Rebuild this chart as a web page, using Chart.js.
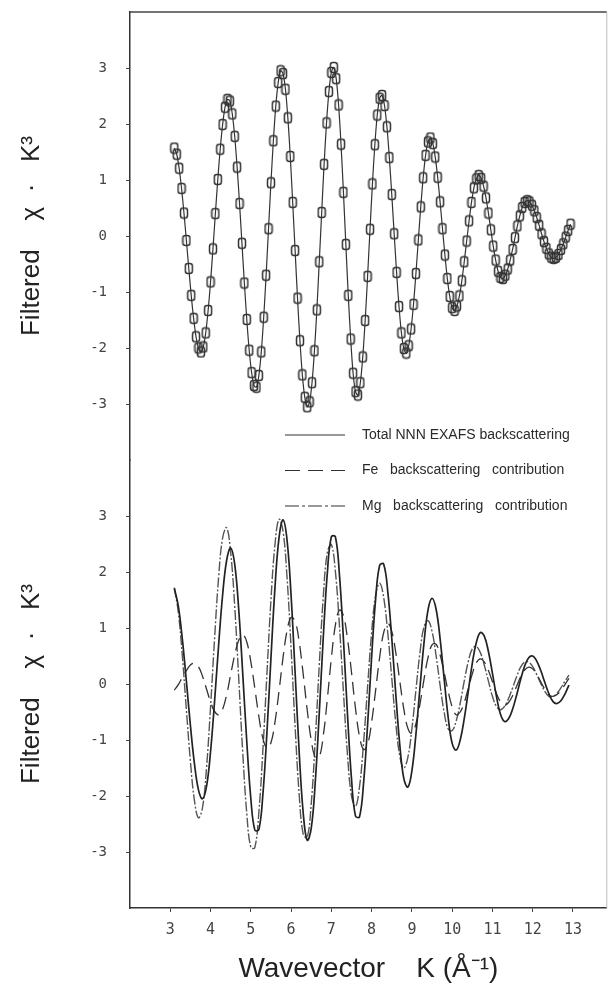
<html>

<head>
    <title>Filtered EXAFS</title>
    <script src="https://cdn.jsdelivr.net/npm/chart.js@4.4.0/dist/chart.umd.min.js"></script>
    <style>
        body { margin: 0; background: #fff; }
    </style>
</head>

<body>
    <canvas id="plotCanvas" width="613" height="991"></canvas>
    <script>
        // ========= Data ==============================

        // top panel: filtered data points, k from 3.1 in steps of 0.06
        const topStart = 3.1
        const topStep = 0.06
        const topChi = [
            1.57, 1.46, 1.21, 0.85, 0.41, -0.08, -0.58, -1.06, -1.47, -1.80, -2.00, -2.07,
            -1.98, -1.73, -1.33, -0.82, -0.23, 0.40, 1.01, 1.55, 1.99, 2.30, 2.44,
            2.41, 2.18, 1.78, 1.23, 0.58, -0.13, -0.84, -1.49, -2.04, -2.44, -2.67,
            -2.70, -2.49, -2.07, -1.45, -0.70, 0.13, 0.95, 1.70, 2.32, 2.74, 2.95,
            2.90, 2.62, 2.11, 1.42, 0.60, -0.26, -1.11, -1.87, -2.48, -2.88, -3.05,
            -2.96, -2.62, -2.05, -1.32, -0.46, 0.42, 1.28, 2.02, 2.58, 2.92, 3.01,
            2.81, 2.34, 1.64, 0.78, -0.15, -1.06, -1.84, -2.45, -2.78,
            -2.84, -2.62, -2.16, -1.51, -0.72, 0.12, 0.93, 1.63, 2.16, 2.46,
            2.51, 2.33, 1.95, 1.40, 0.74, 0.04, -0.65, -1.26, -1.73, -2.01,
            -2.09, -1.96, -1.66, -1.22, -0.67, -0.07, 0.52, 1.04, 1.44, 1.68,
            1.75, 1.65, 1.41, 1.05, 0.61, 0.13, -0.34, -0.76, -1.08, -1.28,
            -1.33, -1.25, -1.07, -0.80, -0.46, -0.09, 0.27, 0.60, 0.86, 1.02,
            1.08, 1.03, 0.89, 0.68, 0.41, 0.11, -0.18, -0.43, -0.63, -0.74,
            -0.76, -0.70, -0.59, -0.43, -0.24, -0.03, 0.18, 0.36, 0.51, 0.60,
            0.63, 0.61, 0.55, 0.45, 0.33, 0.19, 0.04, -0.10, -0.22, -0.32, -0.38,
            -0.40, -0.38, -0.33, -0.24, -0.14, -0.02, 0.10, 0.21
        ]

        // bottom panel: fit and its two shells, k from 3.1 in steps of 0.1
        const fitStart = 3.1
        const fitStep = 0.1
        const totalChi = [
            1.71, 1.39, 0.80, 0.05, -0.74, -1.42, -1.89, -2.05,
            -1.83, -1.21, -0.31, 0.69, 1.59, 2.21, 2.43,
            2.14, 1.33, 0.18, -1.03, -2.04, -2.61,
            -2.60, -1.97, -0.87, 0.46, 1.72, 2.61, 2.93,
            2.57, 1.58, 0.21, -1.20, -2.29, -2.79,
            -2.58, -1.76, -0.52, 0.84, 1.98, 2.63,
            2.63, 1.96, 0.80, -0.53, -1.69, -2.36,
            -2.37, -1.77, -0.73, 0.48, 1.52, 2.12,
            2.14, 1.66, 0.82, -0.18, -1.09, -1.69,
            -1.84, -1.55, -0.90, -0.07, 0.73, 1.32, 1.53,
            1.34, 0.81, 0.10, -0.59, -1.06,
            -1.18, -1.00, -0.62, -0.13, 0.37, 0.74, 0.92,
            0.85, 0.58, 0.19, -0.22, -0.54, -0.67,
            -0.62, -0.45, -0.20, 0.08, 0.32, 0.47, 0.50,
            0.41, 0.24, 0.03, -0.17, -0.31, -0.35,
            -0.30, -0.18, -0.02
        ]
        const feChi = [
            -0.11, -0.01, 0.12, 0.24, 0.34, 0.37,
            0.31, 0.14, -0.09, -0.32, -0.49, -0.55,
            -0.45, -0.19, 0.17, 0.52, 0.78, 0.88,
            0.75, 0.40, -0.08, -0.58, -0.97, -1.14,
            -1.05, -0.68, -0.13, 0.47, 0.95, 1.19,
            1.12, 0.76, 0.18, -0.46, -1.00, -1.31,
            -1.30, -0.92, -0.27, 0.46, 1.05, 1.32,
            1.22, 0.81, 0.21, -0.44, -0.94, -1.17,
            -1.08, -0.68, -0.11, 0.48, 0.92, 1.08,
            0.94, 0.56, 0.05, -0.45, -0.79, -0.88,
            -0.71, -0.36, 0.08, 0.47, 0.70, 0.71,
            0.52, 0.21, -0.13, -0.41, -0.55, -0.50,
            -0.33, -0.08, 0.18, 0.38, 0.45, 0.39,
            0.24, 0.04, -0.17, -0.32, -0.38, -0.33,
            -0.21, -0.04, 0.13, 0.25, 0.30, 0.27,
            0.17, 0.04, -0.09, -0.19, -0.22, -0.19,
            -0.12, -0.01, 0.10
        ]
        const mgChi = [
            1.72, 1.28, 0.50, -0.46, -1.38, -2.08, -2.39,
            -2.21, -1.50, -0.41, 0.81, 1.90, 2.61,
            2.79, 2.35, 1.39, 0.10, -1.23, -2.31, -2.92,
            -2.92, -2.29, -1.18, 0.18, 1.50, 2.49, 2.94,
            2.73, 1.90, 0.64, -0.76, -1.96, -2.68,
            -2.74, -2.14, -1.01, 0.34, 1.56, 2.35,
            2.49, 2.01, 1.05, -0.14, -1.26, -2.00,
            -2.19, -1.83, -1.05, -0.05, 0.92, 1.59,
            1.80, 1.54, 0.92, 0.11, -0.70, -1.29, -1.50,
            -1.31, -0.80, -0.11, 0.56, 1.02,
            1.13, 0.94, 0.51, -0.02, -0.50, -0.80,
            -0.83, -0.66, -0.34, 0.05, 0.40, 0.63,
            0.67, 0.56, 0.33, 0.05, -0.22, -0.40, -0.46,
            -0.40, -0.26, -0.07, 0.13, 0.30, 0.39,
            0.39, 0.31, 0.17, 0.01, -0.13, -0.22,
            -0.22, -0.17, -0.07, 0.05, 0.16
        ]

        const xTicks = [3, 4, 5, 6, 7, 8, 9, 10, 11, 12, 13]
        const yTicks = [-3, -2, -1, 0, 1, 2, 3]
        const legendLabels = [
            'Total NNN EXAFS backscattering',
            'Fe   backscattering   contribution',
            'Mg   backscattering   contribution',
        ]

        // =========== Helpers ===========

        const toPoints = (ys, start, step) =>
            ys.map((y, i) => ({ x: +(start + i * step).toFixed(2), y }))

        function boxMarker() {
            const c = document.createElement('canvas')
            c.width = 10
            c.height = 13
            const g = c.getContext('2d')
            g.strokeStyle = '#333'
            g.lineWidth = 1.5
            g.beginPath()
            g.roundRect(1.5, 1.5, 7, 10, 2.5)
            g.stroke()
            return c
        }

        const tickFont = { family: 'DejaVu Sans Mono', size: 14 }

        function yAxis(weight) {
            return {
                type: 'linear',
                position: 'left',
                stack: 'panels',
                weight,
                min: -4,
                max: 4,
                afterBuildTicks: s => { s.ticks = yTicks.map(v => ({ value: v })) },
                afterFit: s => {
                    s.width = 130
                    s.paddingTop = 0
                    s.paddingBottom = 0
                },
                ticks: { font: tickFont, color: '#444', padding: 19 },
                grid: { drawOnChartArea: false, tickLength: 4, color: '#444' },
                border: { color: '#333', width: 1.5 },
                title: {
                    display: true,
                    text: 'Filtered    \u03c7  \u00b7   K\u00b3',
                    font: { family: 'Liberation Sans', size: 26 },
                    color: '#222',
                    padding: { top: 16, bottom: 0 },
                },
            }
        }

        // top border, right border and the line-style key
        const framePlugin = {
            id: 'frame',
            afterDraw(chart) {
                const { ctx, chartArea: a } = chart
                ctx.save()
                ctx.strokeStyle = '#444'
                ctx.lineWidth = 1.5
                ctx.beginPath()
                ctx.moveTo(a.left, a.top)
                ctx.lineTo(a.right, a.top)
                ctx.stroke()
                ctx.strokeStyle = '#bbb'
                ctx.lineWidth = 1
                ctx.beginPath()
                ctx.moveTo(a.right, a.top)
                ctx.lineTo(a.right, a.bottom)
                ctx.stroke()

                const dashes = [[], [15, 8], [14, 3, 3, 3]]
                ctx.font = '14px "Liberation Sans"'
                ctx.fillStyle = '#2a2a2a'
                ctx.textBaseline = 'middle'
                legendLabels.forEach((label, i) => {
                    const y = 435 + i * 35.5
                    ctx.strokeStyle = '#333'
                    ctx.lineWidth = 1.2
                    ctx.setLineDash(dashes[i])
                    ctx.beginPath()
                    ctx.moveTo(285, y)
                    ctx.lineTo(345, y)
                    ctx.stroke()
                    ctx.fillText(label, 362, y)
                })
                ctx.restore()
            },
        }

        // =========== Chart ===========

        new Chart(document.getElementById('plotCanvas'), {
            type: 'line',
            data: {
                datasets: [
                    {
                        label: 'Filtered data',
                        data: toPoints(topChi, topStart, topStep),
                        yAxisID: 'yTop',
                        borderColor: '#333',
                        borderWidth: 1.2,
                        pointStyle: boxMarker(),
                        pointRadius: 5,
                        tension: 0.3,
                    },
                    {
                        label: legendLabels[0],
                        data: toPoints(totalChi, fitStart, fitStep),
                        yAxisID: 'yBot',
                        borderColor: '#222',
                        borderWidth: 1.7,
                        pointRadius: 0,
                        tension: 0.4,
                    },
                    {
                        label: legendLabels[1],
                        data: toPoints(feChi, fitStart, fitStep),
                        yAxisID: 'yBot',
                        borderColor: '#333',
                        borderWidth: 1.3,
                        borderDash: [13, 7],
                        pointRadius: 0,
                        tension: 0.4,
                    },
                    {
                        label: legendLabels[2],
                        data: toPoints(mgChi, fitStart, fitStep),
                        yAxisID: 'yBot',
                        borderColor: '#555',
                        borderWidth: 1.4,
                        borderDash: [10, 2, 2, 2],
                        pointRadius: 0,
                        tension: 0.4,
                    },
                ],
            },
            options: {
                responsive: false,
                animation: false,
                events: [],
                layout: { padding: { top: 12, right: 4, left: 0, bottom: 0 } },
                plugins: { legend: { display: false }, tooltip: { enabled: false } },
                scales: {
                    x: {
                        type: 'linear',
                        min: 2,
                        max: 13.84,
                        afterBuildTicks: s => { s.ticks = xTicks.map(v => ({ value: v })) },
                        afterFit: s => { s.height = 83 },
                        ticks: { font: { family: 'DejaVu Sans Mono', size: 15 }, color: '#444', padding: 9, maxRotation: 0 },
                        grid: { drawOnChartArea: false, tickLength: 4, color: '#444' },
                        border: { color: '#333', width: 1.5 },
                        title: {
                            display: true,
                            text: 'Wavevector    K (\u00c5\u207b\u00b9)',
                            font: { family: 'Liberation Sans', size: 28 },
                            color: '#222',
                            padding: { top: 0, bottom: 5 },
                        },
                    },
                    yBot: yAxis(1),
                    yTop: yAxis(2),
                },
            },
            plugins: [framePlugin],
        })
    </script>
</body>

</html>
